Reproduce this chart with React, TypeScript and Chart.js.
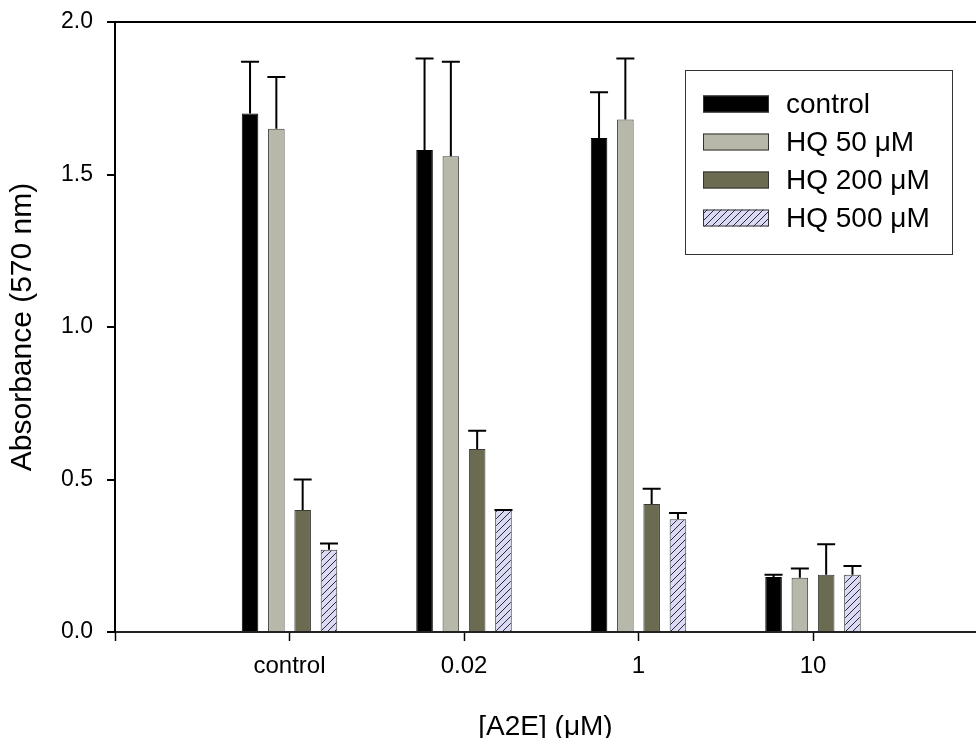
import React, { useEffect, useRef } from 'react';
import { Chart, registerables } from 'chart.js';

Chart.register(...registerables);

const categories = ['control', '0.02', '1', '10'];
const seriesNames = ['control', 'HQ 50 μM', 'HQ 200 μM', 'HQ 500 μM'];
const controlValues = [1.70, 1.58, 1.62, 0.18];
const hq50Values = [1.65, 1.56, 1.68, 0.178];
const hq200Values = [0.40, 0.60, 0.42, 0.188];
const hq500Values = [0.27, 0.40, 0.37, 0.188];
const controlErr = [0.17, 0.30, 0.15, 0.008];
const hq50Err = [0.17, 0.31, 0.20, 0.03];
const hq200Err = [0.10, 0.06, 0.05, 0.10];
const hq500Err = [0.02, 0.0, 0.02, 0.028];
const yTicks = [0, 0.5, 1.0, 1.5, 2.0];
const xTitle = '[A2E] (μM)';
const yTitle = 'Absorbance (570 nm)';

const FONT = '"Liberation Sans", Arial, sans-serif';

function makeHatch(): CanvasPattern | string {
  const c = document.createElement('canvas');
  c.width = 7;
  c.height = 7;
  const g = c.getContext('2d');
  if (!g) return '#dadaf6';
  g.fillStyle = '#dadaf6';
  g.fillRect(0, 0, 7, 7);
  g.strokeStyle = '#2a2a2a';
  g.lineWidth = 1;
  g.beginPath();
  g.moveTo(0, 7);
  g.lineTo(7, 0);
  g.moveTo(-1, 1);
  g.lineTo(1, -1);
  g.moveTo(6, 8);
  g.lineTo(8, 6);
  g.stroke();
  return g.createPattern(c, 'repeat') || '#dadaf6';
}

const errorBarsPlugin = {
  id: 'errorBars',
  afterDatasetsDraw(chart: any) {
    const ctx = chart.ctx;
    const yScale = chart.scales.y;
    ctx.save();
    ctx.strokeStyle = '#000';
    ctx.lineWidth = 2;
    chart.data.datasets.forEach((ds: any, di: number) => {
      const meta = chart.getDatasetMeta(di);
      meta.data.forEach((el: any, i: number) => {
        const v = ds.data[i].y;
        const e = ds.errors[i];
        const yTop = yScale.getPixelForValue(v + e);
        const yBar = el.y;
        ctx.beginPath();
        ctx.moveTo(el.x, yBar);
        ctx.lineTo(el.x, yTop);
        ctx.moveTo(el.x - 9, yTop);
        ctx.lineTo(el.x + 9, yTop);
        ctx.stroke();
      });
    });
    ctx.restore();
  },
};

const legendPlugin = {
  id: 'boxLegend',
  afterDraw(chart: any) {
    const ctx = chart.ctx;
    const area = chart.chartArea;
    const boxLeft = area.left + 570;
    const boxTop = area.top + 48;
    const boxW = 267;
    const boxH = 184;
    ctx.save();
    ctx.fillStyle = '#fff';
    ctx.fillRect(boxLeft, boxTop, boxW, boxH);
    ctx.strokeStyle = '#333';
    ctx.lineWidth = 1;
    ctx.strokeRect(boxLeft + 0.5, boxTop + 0.5, boxW, boxH);
    chart.data.datasets.forEach((ds: any, i: number) => {
      const cy = boxTop + 34 + i * 38;
      const sx = boxLeft + 18;
      ctx.fillStyle = ds.backgroundColor;
      ctx.fillRect(sx, cy - 8.5, 66, 17);
      ctx.strokeStyle = '#333';
      ctx.lineWidth = 1;
      ctx.strokeRect(sx + 0.5, cy - 8, 65, 16);
      ctx.fillStyle = '#000';
      ctx.font = `28px ${FONT}`;
      ctx.textBaseline = 'middle';
      ctx.textAlign = 'left';
      ctx.fillText(ds.label, boxLeft + 101, cy + 1);
    });
    ctx.restore();
  },
};

export default function App() {
  const ref = useRef<HTMLCanvasElement | null>(null);

  useEffect(() => {
    if (!ref.current) return;
    const hatch = makeHatch();
    const valueSets = [controlValues, hq50Values, hq200Values, hq500Values];
    const errSets = [controlErr, hq50Err, hq200Err, hq500Err];
    const fills: any[] = ['#000000', '#b8b8aa', '#6b6b52', hatch];
    const borders = ['#000000', '#3a3a3a', '#3a3a3a', '#3a3a3a'];
    const datasets = valueSets.map((vals, si) => ({
      label: seriesNames[si],
      data: vals.map((v, ci) => ({ x: ci + 1, y: v })),
      errors: errSets[si],
      backgroundColor: fills[si],
      borderColor: borders[si],
      borderWidth: 1,
      categoryPercentage: 0.603,
      barPercentage: 0.63,
    }));

    const chart = new Chart(ref.current, {
      type: 'bar',
      data: { datasets } as any,
      options: {
        animation: false,
        responsive: true,
        maintainAspectRatio: false,
        layout: { padding: { top: 22, left: 0, right: 0, bottom: 0 } },
        plugins: {
          legend: { display: false },
          tooltip: { enabled: false },
        },
        scales: {
          x: {
            type: 'linear',
            min: 0,
            max: 4.934,
            offset: false,
            afterBuildTicks(scale: any) {
              scale.ticks = [0, 1, 2, 3, 4].map((v) => ({ value: v }));
            },
            afterFit(scale: any) {
              scale.height = 106;
              scale.paddingLeft = 0;
              scale.paddingRight = 0;
            },
            ticks: {
              autoSkip: false,
              maxRotation: 0,
              padding: 11,
              color: '#000',
              font: { family: FONT, size: 24 },
              callback: (v: any) => (v >= 1 && v <= categories.length ? categories[v - 1] : ''),
            },
            grid: {
              offset: false,
              drawOnChartArea: false,
              drawTicks: true,
              tickLength: 9,
              tickWidth: 1.5,
              color: '#000',
              tickColor: '#000',
            },
            border: { display: true, color: '#222', width: 2 },
            title: {
              display: true,
              text: xTitle,
              color: '#000',
              font: { family: FONT, size: 28, lineHeight: 0.6 },
              padding: { top: 0, bottom: 2.5 },
            },
          },
          y: {
            min: 0,
            max: 2,
            afterBuildTicks(scale: any) {
              scale.ticks = yTicks.map((v) => ({ value: v }));
            },
            afterFit(scale: any) {
              scale.width = 115;
              scale.paddingTop = 0;
              scale.paddingBottom = 0;
            },
            ticks: {
              padding: 14,
              color: '#000',
              font: { family: FONT, size: 23 },
              callback: (v: any) => Number(v).toFixed(1),
            },
            grid: {
              drawOnChartArea: true,
              drawTicks: true,
              tickLength: 8,
              lineWidth: 2,
              tickWidth: 2,
              color: (c: any) => (c.tick && c.tick.value === 2 ? '#000' : 'rgba(0,0,0,0)'),
              tickColor: '#000',
            },
            border: { display: true, color: '#000', width: 2 },
            title: {
              display: true,
              text: yTitle,
              color: '#000',
              font: { family: FONT, size: 30, lineHeight: 1.2 },
              padding: { top: 4.5, bottom: 0 },
            },
          },
        },
      } as any,
      plugins: [errorBarsPlugin, legendPlugin],
    });
    return () => chart.destroy();
  }, []);

  return (
    <div style={{ position: 'fixed', left: 0, top: 0, width: 976, height: 738, background: '#fff' }}>
      <canvas ref={ref} />
    </div>
  );
}
